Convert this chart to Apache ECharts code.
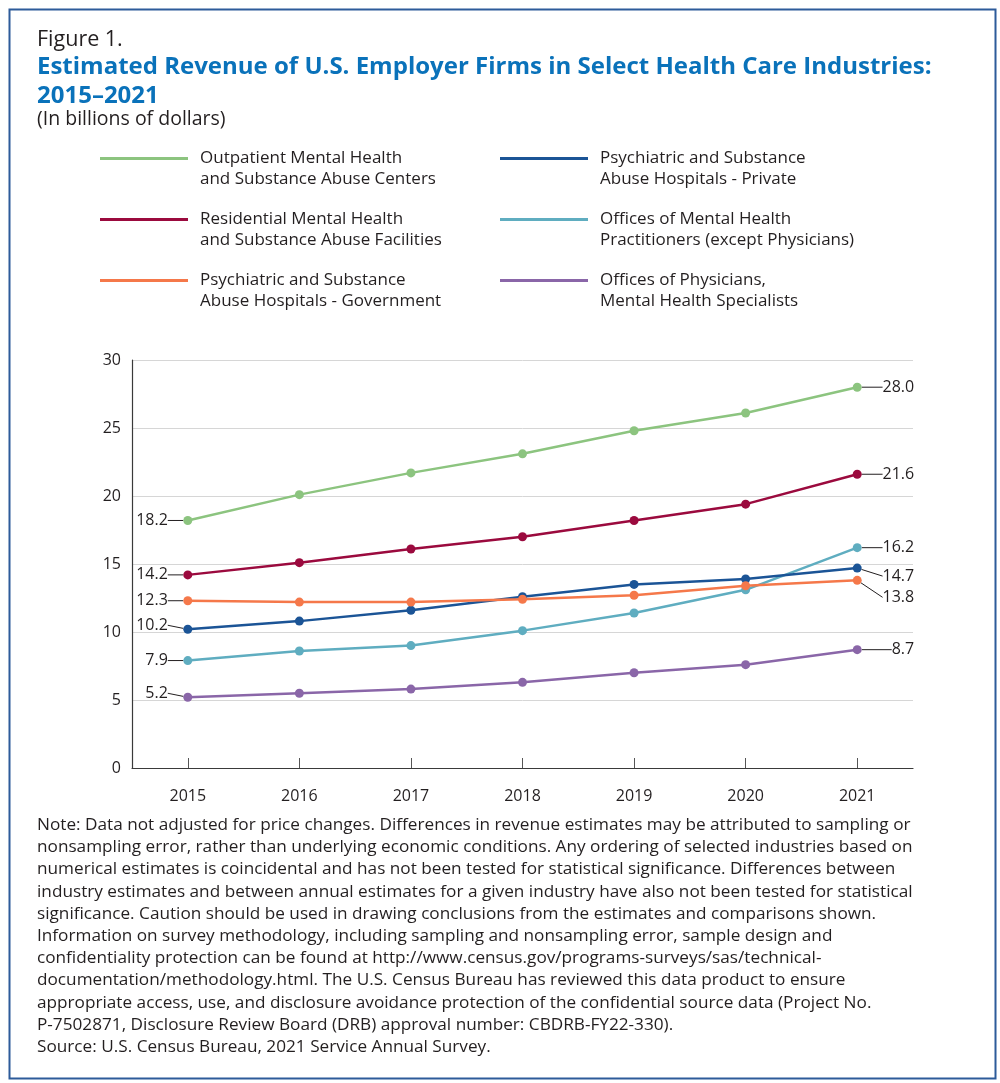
<!DOCTYPE html>
<html>
<head>
<meta charset="utf-8">
<script src="https://cdn.jsdelivr.net/npm/echarts@6/dist/echarts.min.js"></script>
<style>
html,body{margin:0;padding:0;background:#fff;}
#chart{width:1000px;height:1083px;}
</style>
</head>
<body>
<div id="chart"></div>
<script>
const years = ['2015','2016','2017','2018','2019','2020','2021'];
const yTicks = [0, 5, 10, 15, 20, 25, 30];

const outpatient   = [18.2, 20.1, 21.7, 23.1, 24.8, 26.1, 28.0];
const residential  = [14.2, 15.1, 16.1, 17.0, 18.2, 19.4, 21.6];
const govHospitals = [12.3, 12.2, 12.2, 12.4, 12.7, 13.4, 13.8];
const privHospitals= [10.2, 10.8, 11.6, 12.6, 13.5, 13.9, 14.7];
const mhPractition = [7.9, 8.6, 9.0, 10.1, 11.4, 13.1, 16.2];
const physicians   = [5.2, 5.5, 5.8, 6.3, 7.0, 7.6, 8.7];

const seriesNames = [
  'Outpatient Mental Health\nand Substance Abuse Centers',
  'Residential Mental Health\nand Substance Abuse Facilities',
  'Psychiatric and Substance\nAbuse Hospitals - Government',
  'Psychiatric and Substance\nAbuse Hospitals - Private',
  'Offices of Mental Health\nPractitioners (except Physicians)',
  'Offices of Physicians,\nMental Health Specialists'
];
const seriesData = [outpatient, residential, govHospitals, privHospitals, mhPractition, physicians];
const colors = ['#8cc47f', '#9b0a3e', '#f5784a', '#1b5496', '#5fadc0', '#8a66a8'];
// vertical shift of end labels (left, right) in pixels
const labelShift = [[0,0],[0,0],[0,17],[-4,8],[0,0],[-4,0]];

const titleText = 'Estimated Revenue of U.S. Employer Firms in Select Health Care Industries:\n2015\u20132021';
const noteText = [
 'Note: Data not adjusted for price changes. Differences in revenue estimates may be attributed to sampling or',
 'nonsampling error, rather than underlying economic conditions. Any ordering of selected industries based on',
 'numerical estimates is coincidental and has not been tested for statistical significance. Differences between',
 'industry estimates and between annual estimates for a given industry have also not been tested for statistical',
 'significance. Caution should be used in drawing conclusions from the estimates and comparisons shown.',
 'Information on survey methodology, including sampling and nonsampling error, sample design and',
 'confidentiality protection can be found at http://www.census.gov/programs-surveys/sas/technical-',
 'documentation/methodology.html. The U.S. Census Bureau has reviewed this data product to ensure',
 'appropriate access, use, and disclosure avoidance protection of the confidential source data (Project No.',
 'P-7502871, Disclosure Review Board (DRB) approval number: CBDRB-FY22-330).',
 'Source: U.S. Census Bureau, 2021 Service Annual Survey.'
].join('\n');

const FONT = '"Open Sans", "Liberation Sans", sans-serif';
const TXT = '#231f20';

const chart = echarts.init(document.getElementById('chart'), null, {renderer: 'canvas'});

const series = seriesData.map((d, i) => ({
  name: seriesNames[i],
  type: 'line',
  data: d.map((v, j) => {
    const first = j === 0, last = j === d.length - 1;
    return {
      value: v,
      label: {
        show: first || last,
        padding: first ? [0, 3, 0, 0] : [0, 0, 0, v < 10 ? 12 : 3]
      },
      labelLine: {show: first || last}
    };
  }),
  color: colors[i],
  symbol: 'circle',
  symbolSize: 9,
  showSymbol: true,
  lineStyle: {width: 2.5, color: colors[i]},
  itemStyle: {color: colors[i]},
  emphasis: {disabled: true},
  label: {
    show: false,
    formatter: p => p.value.toFixed(1),
    fontFamily: FONT, fontSize: 16, color: TXT
  },
  labelLine: {show: false, lineStyle: {color: '#231f20', width: 1}},
  labelLayout: function (p) {
    const cx = p.rect.x + p.rect.width / 2;
    const cy = p.rect.y + p.rect.height / 2;
    if (p.dataIndex === 0) {
      const dy = labelShift[i][0];
      return {x: cx - 17, y: cy + dy, align: 'right', verticalAlign: 'middle'};
    }
    const dy = labelShift[i][1];
    return {x: cx + 57, y: cy + dy, align: 'right', verticalAlign: 'middle'};
  },
  z: 10 - i
}));

const legendCommon = {
  orient: 'vertical',
  icon: 'rect',
  itemWidth: 88,
  itemHeight: 3,
  itemGap: 0,
  selectedMode: false,
  itemStyle: {borderWidth: 0},
  formatter: name => '\n' + name,
  textStyle: {fontFamily: FONT, fontSize: 17, color: TXT, lineHeight: 20.33, padding: [0, 0, 0, 7]}
};

chart.setOption({
  animation: false,
  backgroundColor: '#fff',
  title: [
    {text: 'Figure 1.', left: 32, top: 23,
     textStyle: {fontFamily: FONT, fontSize: 21.5, fontWeight: 'normal', color: TXT, lineHeight: 24}},
    {text: titleText, left: 32, top: 48,
     textStyle: {fontFamily: FONT, fontSize: 24, fontWeight: 'bold', color: '#0a72ba', lineHeight: 28.5}},
    {text: '(In billions of dollars)', left: 32, top: 103,
     textStyle: {fontFamily: FONT, fontSize: 19.5, fontWeight: 'normal', color: TXT, lineHeight: 22}},
    {text: noteText, left: 32, top: 809,
     textStyle: {fontFamily: FONT, fontSize: 17.2, fontWeight: 'normal', color: TXT, lineHeight: 22.2}}
  ],
  legend: [
    Object.assign({left: 95, top: 123, data: seriesNames.slice(0, 3)}, legendCommon),
    Object.assign({left: 495, top: 123, data: seriesNames.slice(3, 6)}, legendCommon)
  ],
  grid: {left: 132, right: 87, top: 360, bottom: 315, containLabel: false},
  xAxis: {
    type: 'category',
    data: years,
    boundaryGap: true,
    axisLine: {show: true, lineStyle: {color: '#3a3a3a', width: 1.2}},
    axisTick: {show: true, alignWithLabel: true, inside: true, length: 10, lineStyle: {color: '#555', width: 1}},
    axisLabel: {fontFamily: FONT, fontSize: 16, color: TXT, margin: 20},
    splitLine: {show: false}
  },
  yAxis: {
    type: 'value',
    min: yTicks[0],
    max: yTicks[yTicks.length - 1],
    interval: yTicks[1] - yTicks[0],
    axisLine: {show: true, lineStyle: {color: '#3a3a3a', width: 1.2}},
    axisTick: {show: false},
    axisLabel: {fontFamily: FONT, fontSize: 16, color: TXT, margin: 11},
    splitLine: {show: true, lineStyle: {color: '#d6d6d6', width: 1}}
  },
  graphic: [{
    type: 'rect', left: 7, top: 7, z: 100, silent: true,
    shape: {width: 986, height: 1069},
    style: {fill: 'none', stroke: '#2d5b9a', lineWidth: 2}
  }],
  series: series
});
</script>
</body>
</html>
